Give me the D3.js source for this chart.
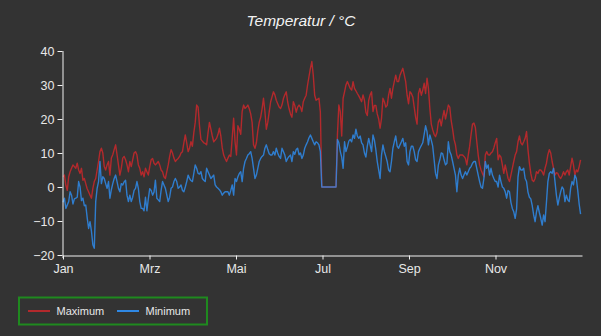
<!DOCTYPE html>
<html>
<head>
<meta charset="utf-8">
<script src="https://cdn.jsdelivr.net/npm/d3@7"></script>
<style>
  html, body { margin: 0; padding: 0; background: #333333; }
  svg { display: block; }
</style>
</head>
<body>
<svg id="chart" width="601" height="336"></svg>
<script>
// ---- data ----
const monthLabels = ["Jan", "Mrz", "Mai", "Jul", "Sep", "Nov"];
const yTicks = [-20, -10, 0, 10, 20, 30, 40];
const seriesNames = ["Maximum", "Minimum"];

const maxTemp = [
  3.0, 3.5, 0.5, -1.0, 3.0, 4.5, 5.5, 6.5, 6.0, 5.5,
  7.0, 5.0, 4.0, 5.5, 2.0, 2.5, 1.0, -0.5, -1.4, -2.4,
  -3.3, -0.4, 1.6, 2.5, 5.0, 7.5, 10.4, 11.4, 10.0, 6.0,
  5.0, 6.5, 7.5, 3.5, 8.5, 9.5, 11.0, 12.4, 9.5, 6.5,
  3.5, 5.5, 8.5, 9.0, 8.0, 6.5, 4.5, 7.5, 6.0, 8.0,
  10.0, 10.4, 9.4, 6.5, 5.5, 3.5, 4.5, 3.0,
  5.5, 4.5, 3.5, 6.0, 8.0, 8.4, 7.0, 6.5, 7.0, 7.5,
  6.5, 5.0, 4.5, 3.0, 2.5, 4.5, 6.5, 9.0, 11.0, 10.0,
  8.5, 7.5, 8.0, 8.4, 9.0, 10.0, 10.4, 13.0, 15.3, 13.0,
  10.4, 11.5, 13.3, 12.0, 16.0, 19.0, 24.1, 23.5, 18.0, 14.0,
  13.5, 13.0, 12.8, 12.4, 16.0, 19.0, 17.0, 15.0, 13.3, 13.8,
  14.3, 15.5, 17.3, 15.0, 11.5, 9.4, 8.4, 7.5, 8.5, 9.4,
  9.0, 14.5, 20.2, 13.3, 9.4, 18.0, 17.0, 15.5, 22.2, 24.1,
  23.1, 23.5, 24.1, 23.0, 21.5, 19.0, 12.4, 11.4, 13.0, 16.5,
  19.0, 20.5, 23.0, 26.1, 22.2, 17.0, 19.0, 22.0, 25.0, 26.5,
  28.0, 27.1, 25.5, 24.5, 23.5, 23.1, 24.1, 26.0, 27.1, 28.0,
  25.0, 23.0, 21.5, 20.5, 25.1, 24.0, 22.0, 23.5, 24.1, 23.5,
  22.2, 25.1, 26.1, 27.0, 30.0, 32.5, 34.9, 36.9, 32.9, 27.0,
  25.5, 25.8, 26.1, 22.0,
  0, 0, 0, 0, 0, 0, 0, 0, 0, 0, 0,
  15.3, 24.1, 22.2, 15.0, 26.1, 28.0, 30.0, 31.0, 30.0, 29.0,
  28.5, 31.0, 29.0, 28.3, 27.5, 26.8, 26.0, 25.1, 27.1, 25.5,
  22.0, 21.0, 25.5, 27.1, 28.0, 22.2, 24.0, 24.0, 21.5, 20.0,
  17.3, 20.2, 26.1, 25.1, 23.5, 24.0, 27.1, 29.0, 26.1, 29.0,
  31.0, 32.9, 31.0, 31.0, 32.9, 33.9, 34.9, 33.0,
  31.0, 27.0, 24.5, 28.0, 27.5, 26.5, 23.5, 20.5, 18.5, 27.5,
  29.0, 27.0, 28.5, 30.5, 27.5, 32.0, 29.0, 23.1, 18.5, 16.8,
  15.5, 14.8, 16.0, 19.2, 20.0, 18.0, 20.5, 22.5, 20.0, 22.0,
  24.1, 23.5, 19.5, 17.0, 14.0, 12.4, 9.4, 8.4, 9.4, 9.4,
  9.4, 9.0, 8.4, 6.5, 9.4, 12.0, 15.5, 18.5, 18.8, 17.5,
  13.3, 9.4, 6.5, 5.0, 4.0, 3.0, 9.4, 10.4, 9.5, 9.4,
  10.0, 10.4, 11.5, 13.0, 14.3, 8.0, 9.4, 8.8, 6.5, 4.0,
  6.5, 4.5, 2.5, 1.6, 3.5, 5.5, 7.5, 9.4, 10.4, 13.3,
  15.0, 13.0, 12.4, 13.3, 14.3, 16.3, 11.0, 7.0, 4.0, 2.0,
  1.6, 2.5, 4.5, 4.0, 5.0, 5.0, 4.5, 3.5, 5.5, 7.0,
  9.5, 11.0, 10.0, 7.5, 5.5, 3.5, 4.2, 4.0, 3.0, 2.5,
  3.3, 4.5, 3.5, 4.5, 5.0, 3.5, 6.0, 8.5, 6.5, 3.5,
  5.0, 4.5, 6.0, 8.0
];

const minTemp = [
  -4.5, -3.3, -6.3, -5.3, -4.3, -1.4, -2.4, -5.0, -3.5, -3.3,
  -3.0, 1.6, 0.0, -4.0, -3.3, -5.5, -5.3, -9.0, -12.2, -10.2,
  -13.0, -17.0, -18.0, -4.3, -0.4, 1.6, 7.5, 1.0, 3.0, 2.5,
  1.0, -0.4, 1.6, -3.3, -0.8, 1.0, 2.5, 3.5, 1.6, -0.4,
  -1.4, 1.0, 0.6, 1.5, 2.0, -2.4, -4.3, -2.4, -4.3, -3.0,
  -1.0, -0.4, 1.6, -0.4, -4.3, -6.3, -6.3, -7.0,
  -3.0, -7.0, -3.5, -0.5, -1.0, -2.4, -1.5, 2.0, -3.3, -3.8,
  -4.3, -1.0, 1.6, 0.6, -0.4, -2.4, -4.3, -3.0, -0.4, 0.0,
  1.6, 2.5, 1.6, -0.4, 0.0, 0.6, -1.0, -1.4, 0.0, 1.6,
  3.5, 2.5, 1.9, 1.6, 4.0, 6.5, 5.5, 4.0, 3.8, 4.5,
  2.5, 2.0, 1.6, 5.5, 4.5, 3.5, 2.5, 3.0, 3.5, 0.6,
  0.0, -0.4, -0.8, -1.4, -2.4, -1.8, -1.4, -1.4, -1.4, -2.4,
  -1.0, 0.6, -2.4, 2.5, 1.6, 3.0, 4.0, 4.5, 1.6, 5.5,
  7.5, 8.4, 9.4, 9.8, 10.4, 8.4, 5.5, 2.5, 3.5, 5.5,
  7.5, 8.4, 9.0, 9.4, 11.4, 12.4, 11.0, 9.8, 9.4, 9.4,
  10.4, 9.4, 11.4, 10.0, 9.0, 8.4, 11.4, 10.4, 9.4, 7.5,
  8.4, 9.0, 9.4, 7.5, 10.4, 9.6, 11.0, 11.4, 9.5, 10.0,
  8.4, 9.4, 11.4, 12.4, 13.3, 14.5, 15.3, 14.3, 13.3, 12.4,
  13.3, 13.0, 12.4, 10.4,
  0, 0, 0, 0, 0, 0, 0, 0, 0, 0, 0,
  14.0, 13.0, 10.5, 8.8, 5.5, 13.3, 10.4, 11.8, 13.5, 14.0,
  13.3, 15.3, 14.3, 17.0, 15.0, 14.3, 15.0, 13.0, 12.4, 10.0,
  8.8, 12.0, 14.3, 12.4, 10.4, 15.3, 13.8, 11.0, 7.5, 5.0,
  2.5, 9.4, 12.4, 10.4, 9.0, 7.5, 5.0, 4.5, 7.5, 11.4,
  13.3, 15.0, 12.0, 11.4, 12.4, 13.3, 14.3, 12.0,
  13.0, 7.5, 6.5, 10.4, 12.0, 12.0, 10.4, 8.0, 7.5, 10.4,
  11.4, 12.2, 13.0, 15.5, 18.0, 16.3, 12.4, 15.3, 13.8, 12.0,
  8.0, 4.0, 2.5, 6.5, 8.0, 10.0, 9.8, 8.0, 6.5, 7.0,
  13.3, 10.4, 9.4, 7.5, 5.5, 3.5, -1.4, 3.5, 5.5, 3.5,
  2.5, 3.5, 4.5, 3.5, 4.5, 5.5, 6.0, 7.0, 7.5, 7.5,
  5.5, 3.5, 1.6, 0.0, -0.4, 2.5, 7.5, 5.5, 6.5, 3.5,
  5.5, 3.5, 2.5, 1.6, 1.6, 0.0, 3.5, 1.6, 0.0, -0.4,
  -1.4, -3.3, -1.0, -1.4, -4.5, -6.3, -7.3, -9.2, -6.5, 3.0,
  6.0, 5.0, 5.0, 5.5, 2.5, 1.6, -1.5, -3.0, -3.5, -5.5,
  -8.2, -10.2, -7.3, -5.5, -7.5, -9.2, -11.2, -8.2, -10.2, -4.5,
  1.6, 4.0, 4.5, 4.0, 5.5, 1.6, -2.4, -5.3, -3.3, -1.4,
  0.0, -0.6, -4.3, -2.4, -3.8, -4.3, -0.4, 1.6, 0.6, 3.5,
  2.5, -1.0, -5.0, -8.0
];

// ---- layout ----
const svg = d3.select("#chart");
const W = 601, H = 336;
const plot = { left: 63, right: 582, top: 51, bottom: 255 };
const colors = { max: "#b3292c", min: "#2f88e4", axis: "#f2f2f2", text: "#e8e8e8" };
const font = "'Liberation Sans', Arial, sans-serif";

svg.append("rect").attr("width", W).attr("height", H).attr("fill", "#333333");

const nDays = 365;
const x = d3.scaleLinear().domain([0, nDays]).range([plot.left, plot.right]);
const y = d3.scaleLinear().domain([-20, 40]).range([plot.bottom, plot.top]);

// title
svg.append("text")
  .attr("x", 301).attr("y", 26)
  .attr("text-anchor", "middle")
  .attr("font-family", font).attr("font-size", 15.5)
  .attr("font-style", "italic")
  .attr("fill", "#f2f2f2")
  .text("Temperatur / °C");

// lines
const line = d3.line().x((d, i) => x(i)).y(d => y(d));
svg.append("path").datum(maxTemp)
  .attr("d", line).attr("fill", "none")
  .attr("stroke", colors.max).attr("stroke-width", 1.4).attr("stroke-linejoin", "round");
svg.append("path").datum(minTemp)
  .attr("d", line).attr("fill", "none")
  .attr("stroke", colors.min).attr("stroke-opacity", 0.88).attr("stroke-width", 1.4).attr("stroke-linejoin", "round");

// y axis
const yAxis = d3.axisLeft(y).tickValues(yTicks).tickSize(5).tickSizeOuter(0).tickPadding(3);
const gy = svg.append("g").attr("transform", `translate(${plot.left - 0.5},0)`).call(yAxis);
gy.select(".domain").attr("stroke", colors.axis).attr("d", `M0.5,${plot.top}V${plot.bottom + 3}`);
gy.selectAll(".tick line").attr("stroke", colors.axis);
gy.selectAll(".tick text").attr("fill", colors.text).attr("font-family", font).attr("font-size", 12.5);

// x axis
const xTickVals = monthLabels.map((m, i) => i * nDays / 6);
const xAxis = d3.axisBottom(x).tickValues(xTickVals).tickSize(4).tickSizeOuter(0).tickPadding(5)
  .tickFormat((d, i) => monthLabels[i]);
const gx = svg.append("g").attr("transform", `translate(0,${plot.bottom + 0.5})`).call(xAxis);
gx.select(".domain").attr("stroke", colors.axis);
gx.selectAll(".tick line").attr("stroke", colors.axis);
gx.selectAll(".tick text").attr("fill", colors.text).attr("font-family", font).attr("font-size", 12.5);

// legend
const lg = svg.append("g");
lg.append("rect").attr("x", 19).attr("y", 297.5).attr("width", 188).attr("height", 27)
  .attr("fill", "none").attr("stroke", "#1f8a1f").attr("stroke-width", 2);
const legendItems = [
  { name: seriesNames[0], color: colors.max, x0: 28 },
  { name: seriesNames[1], color: colors.min, x0: 117 }
];
legendItems.forEach(it => {
  lg.append("line").attr("x1", it.x0).attr("x2", it.x0 + 22).attr("y1", 311).attr("y2", 311)
    .attr("stroke", it.color).attr("stroke-width", 2);
  lg.append("text").attr("x", it.x0 + 28.5).attr("y", 315)
    .attr("font-family", font).attr("font-size", 11).attr("fill", colors.text)
    .text(it.name);
});
</script>
</body>
</html>
